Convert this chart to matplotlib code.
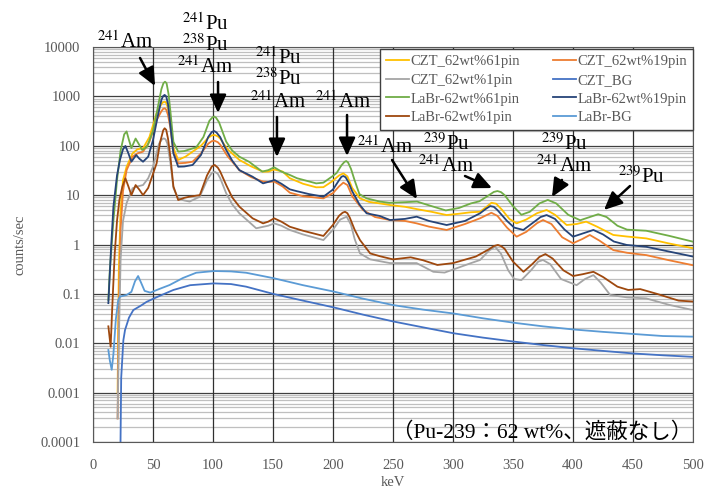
import numpy as np
import matplotlib
matplotlib.use("Agg")
import matplotlib.pyplot as plt
from matplotlib.ticker import FixedLocator, FuncFormatter, LogLocator, NullFormatter

plt.rcParams['font.family'] = ['Liberation Serif', 'Noto Sans CJK JP']
plt.rcParams['mathtext.fontset'] = 'stix'

# ---- spectra (energy keV, counts/sec) ----
czt61_e = [20.5, 21.5, 23, 25, 28, 33, 37, 41.7, 47, 53, 57, 58.5, 59.7, 61, 62.5, 64.5, 67, 71, 77, 83,
           90, 96, 99, 101.4, 104, 106, 112, 122, 132, 141.7, 146, 151, 158, 164, 175, 186, 192, 199,
           205, 208.6, 212, 216, 222.5, 230, 239, 247.5, 260, 270, 282, 294.7, 305, 315, 322.5, 328,
           332, 336, 341, 347, 353, 361, 370, 378, 385, 394.7, 403, 411, 420, 433.6, 445, 461, 480, 500]
czt61_v = [0.001, 0.3, 5, 20, 37.6, 70, 85, 89, 150, 454, 700, 765, 780, 740, 580, 300, 90, 51.6, 60, 76,
           100, 145, 162, 165, 155, 140, 85, 51.6, 38, 29.8, 30, 33, 30, 22, 17, 14.4, 14.5, 18.8,
           25, 27.6, 24, 14, 8.6, 7.3, 6.8, 6.3, 5.8, 5.2, 4.6, 3.95, 4.2, 4.5, 4.6, 5.8,
           7.0, 6.7, 5.0, 3.3, 2.68, 3.2, 4.3, 5.0, 4.0, 2.48, 2.6, 2.9, 2.3, 1.56, 1.45, 1.33, 1.05, 0.84]

czt19_e = [20.5, 21.5, 23, 25, 28, 33, 37, 41.7, 47, 53, 57, 58.5, 59.7, 61, 62.5, 64.5, 67, 71, 77, 83,
           90, 96, 99, 101.4, 104, 106, 112, 122, 132, 141.7, 146, 151, 158, 164, 175, 192, 200, 205,
           208.6, 212, 216, 225, 235, 247.5, 260, 269.7, 280, 294.7, 310, 322.5, 332, 337, 345, 353,
           361, 370, 375, 382, 391, 400, 408, 414, 422, 433.6, 445, 461, 480, 500]
czt19_v = [0.0003, 0.05, 2, 12, 32, 60, 70, 76, 120, 330, 500, 560, 573, 540, 420, 230, 75, 44, 45, 47.5,
           70, 110, 124, 126, 118, 105, 62, 32, 23, 18.8, 18.5, 18.8, 15, 11.2, 9.5, 8.6, 11, 15,
           17.9, 16, 9.5, 5.0, 3.6, 3.13, 3.0, 2.68, 2.3, 1.97, 2.6, 3.39, 4.4, 3.8, 2.2, 1.44,
           1.8, 2.7, 3.13, 2.6, 1.4, 1.06, 1.3, 1.56, 1.2, 0.77, 0.68, 0.61, 0.48, 0.38]

czt1_e = [20.5, 21.5, 23, 25, 28, 33, 37, 41.7, 46, 50, 55, 57.5, 59, 60.5, 62, 64.5, 67, 71, 76, 80.5,
          89, 95, 99, 101.4, 104, 106, 111, 116, 122, 136, 146, 151, 157, 164, 175, 192, 200, 206,
          211.4, 215, 218, 222.5, 231, 247.5, 260, 269.7, 283.6, 293, 303, 315, 322.5, 330, 335,
          340, 346, 351, 357, 365, 371, 375, 381, 390, 403, 410, 417, 423, 431, 445, 461, 480, 500]
czt1_v = [0.0003, 0.01, 0.5, 3, 6.9, 13.8, 15, 16, 22, 37.6, 110, 135, 141, 135, 110, 45, 14, 8.6, 7.8,
          7.4, 9.3, 20, 28, 29.8, 27, 22, 10.9, 6.5, 4.28, 2.13, 2.4, 2.68, 2.4, 1.97, 1.6, 1.23, 2.0,
          3.2, 3.66, 2.5, 1.3, 0.66, 0.5, 0.42, 0.42, 0.42, 0.28, 0.27, 0.33, 0.42, 0.485, 0.75,
          0.9, 0.65, 0.3, 0.2, 0.19, 0.3, 0.45, 0.485, 0.4, 0.2, 0.15, 0.2, 0.24, 0.17, 0.095,
          0.085, 0.081, 0.06, 0.047]

cztbg_e = [22.8, 23.5, 25.3, 26.7, 30, 33.6, 40, 44.7, 55, 67, 81, 100.8, 115, 127.6, 150.8, 175,
           200.9, 225, 250.6, 275, 300.7, 325, 350.8, 375, 400.5, 425, 450.6, 475, 500]
cztbg_v = [0.00005, 0.002, 0.0115, 0.0186, 0.033, 0.047, 0.058, 0.069, 0.09, 0.12, 0.15, 0.163, 0.158,
           0.14, 0.099, 0.073, 0.053, 0.038, 0.0275, 0.021, 0.0159, 0.013, 0.0108, 0.0092, 0.0079,
           0.007, 0.0062, 0.0057, 0.0053]

labr61_e = [12.8, 14, 17, 20, 23, 26, 28, 30, 32, 35.5, 38, 41, 45, 50, 54, 57, 58.7, 60, 61.3, 63,
            64.5, 67, 71, 76, 86, 92, 97, 99.5, 101, 102.5, 105, 111, 116, 122, 130, 141, 146, 151,
            157, 164, 170, 186, 192, 199, 203, 207, 209.5, 211, 212.5, 215, 218, 222, 228, 239, 247,
            260, 270, 282, 294, 305, 315, 322, 330, 334, 337, 340, 343, 350, 357, 364, 372, 379, 386,
            396, 406, 414, 421, 428, 437, 445, 461, 480, 500]
labr61_v = [0.075, 0.3, 3, 20, 80, 170, 195, 130, 90, 140, 110, 82, 95, 200, 600, 1400, 1850, 1980,
            1850, 1100, 500, 120, 76, 78, 93, 150, 320, 375, 390, 370, 300, 121, 80, 60, 47.5, 30, 32,
            36.6, 30, 25.6, 22, 17.3, 17.9, 23.6, 28, 40, 47, 49, 46, 34, 20, 10.5, 8.6, 7.4, 7.0,
            7.2, 7.4, 6.0, 4.9, 5.5, 6.8, 7.5, 10, 11.6, 12.1, 11.5, 10, 6, 4.0, 4.6, 6.8, 8.0, 6.8,
            4.0, 3.1, 3.6, 4.1, 3.6, 2.4, 2.0, 1.9, 1.5, 1.14]

labr19_e = [12.8, 15, 17, 20, 22.5, 25, 27, 29.5, 32, 36, 38.5, 41.7, 46, 50, 54, 57, 58.5, 59.7, 61,
            62.5, 64.5, 67, 71, 76, 83, 90, 96, 99, 101, 103, 106, 111, 116, 122, 133, 141.7, 146,
            151.4, 157, 164, 170, 180, 192, 200, 205, 207, 208.6, 210.5, 213, 216, 222, 228, 239,
            247.5, 260, 269.7, 280, 294.7, 310, 322.5, 328, 331, 334, 337, 345, 351, 358.6, 367, 373,
            378, 385, 393, 400, 409, 417, 425, 434, 444.7, 461, 480, 500]
labr19_v = [0.065, 0.8, 5.8, 25, 52, 85, 99, 70, 47.5, 65, 55, 47.5, 60, 130, 400, 850, 1020, 1070,
            1000, 700, 250, 70, 37.6, 38, 40.8, 65, 150, 190, 199, 185, 150, 82, 50, 32, 23.6, 17.3,
            18.5, 20.2, 17, 13.1, 12, 10.5, 9.3, 13, 20, 23.5, 24.4, 23, 18, 12, 6.5, 4.28, 3.78,
            3.13, 3.3, 3.66, 3.0, 2.48, 3.0, 4.28, 5.4, 6.0, 5.8, 5.0, 3.0, 2.2, 1.97, 2.8, 3.6,
            3.95, 3.3, 2.0, 1.44, 1.7, 1.97, 1.6, 1.15, 0.98, 0.9, 0.72, 0.57]

labr1_e = [12.8, 14.7, 16, 18, 20, 22, 24.5, 27, 29.5, 32, 35.5, 38.5, 41.7, 46, 53, 56, 58.5, 59.7,
           61, 62.5, 64.5, 67, 71, 76, 80.5, 89, 95, 99, 101.4, 104, 106, 111, 116, 122, 133, 141.7,
           146, 151, 157, 164, 175, 192, 200, 205, 208, 210, 212, 214, 218, 222.5, 231, 239, 250,
           264.7, 275, 287, 300, 319, 330, 334, 337.4, 340, 343, 350, 358.7, 366, 372, 377, 383, 392,
           400, 408, 417, 425, 437, 446, 456, 470, 488, 500]
labr1_v = [0.022, 0.0085, 0.05, 0.6, 3, 8, 15, 21.9, 15, 10, 16, 13, 10, 14, 44, 120, 205, 226,
           210, 140, 60, 15, 7.96, 8.8, 9.3, 10, 25, 38, 40.8, 36, 30, 16, 9, 5.83, 3.39, 2.68,
           2.9, 3.39, 2.9, 2.29, 1.9, 1.49, 2.5, 3.8, 4.4, 4.6, 4.3, 3.5, 2.0, 1.23, 0.66, 0.58, 0.5,
           0.55, 0.48, 0.385, 0.42, 0.57, 0.8, 0.93, 0.98, 0.93, 0.82, 0.45, 0.28, 0.4, 0.56, 0.64,
           0.52, 0.3, 0.23, 0.25, 0.28, 0.22, 0.14, 0.12, 0.125, 0.1, 0.073, 0.07]

labrbg_e = [12.8, 14, 15.6, 17, 19, 21, 22.5, 28, 32, 35, 37.6, 40, 43, 47.8, 55, 63.8, 75, 86, 100.8,
            115, 127.6, 150.8, 175, 200.9, 225, 250.6, 275, 300.7, 325, 350.8, 375, 400.5, 425,
            450.6, 475, 500]
labrbg_v = [0.0073, 0.0045, 0.0029, 0.006, 0.03, 0.075, 0.088, 0.095, 0.11, 0.18, 0.23, 0.17, 0.115,
            0.106, 0.125, 0.151, 0.21, 0.268, 0.29, 0.285, 0.268, 0.207, 0.15, 0.111, 0.08, 0.059,
            0.048, 0.04, 0.032, 0.026, 0.022, 0.019, 0.017, 0.0154, 0.014, 0.0136]

series = [
    ("CZT_62wt%61pin", czt61_e, czt61_v, "#FFC000"),
    ("CZT_62wt%19pin", czt19_e, czt19_v, "#ED7D31"),
    ("CZT_62wt%1pin", czt1_e, czt1_v, "#A5A5A5"),
    ("CZT_BG", cztbg_e, cztbg_v, "#4472C4"),
    ("LaBr-62wt%61pin", labr61_e, labr61_v, "#70AD47"),
    ("LaBr-62wt%19pin", labr19_e, labr19_v, "#264478"),
    ("LaBr-62wt%1pin", labr1_e, labr1_v, "#9E480E"),
    ("LaBr-BG", labrbg_e, labrbg_v, "#5B9BD5"),
]

fig = plt.figure(figsize=(7.04, 4.91), dpi=100)
ax = fig.add_axes([93 / 704, 1 - 442 / 491, 600 / 704, 395 / 491])

handles = []
for name, e, v, c in series:
    h, = ax.plot(e, v, color=c, lw=1.3, label=name)
    handles.append(h)

ax.set_yscale("log")
ax.set_xlim(0, 500)
ax.set_ylim(1e-4, 1e4)
ax.xaxis.set_major_locator(FixedLocator(np.arange(0, 501, 50)))
ax.yaxis.set_major_locator(LogLocator(base=10, numticks=20))
ax.yaxis.set_minor_locator(LogLocator(base=10, subs=np.arange(2, 10), numticks=20))
ax.yaxis.set_minor_formatter(NullFormatter())
ax.yaxis.set_major_formatter(FuncFormatter(lambda y, _: "%g" % y))

ax.grid(which="minor", axis="y", color="#BFBFBF", lw=0.9)
ax.grid(which="major", axis="y", color="#404040", lw=0.9)
ax.grid(which="major", axis="x", color="#303030", lw=0.9)
ax.set_axisbelow(True)
# vertical grid on top of the horizontal minor grid
ax.yaxis.set_zorder(0.4)
ax.xaxis.set_zorder(0.6)
ax.tick_params(which="both", length=0, labelsize=10.5, labelcolor="#595959")
ax.tick_params(axis="y", pad=9)
ax.tick_params(axis="x", pad=12)
for s in ax.spines.values():
    s.set_color("#595959")

ax.set_xlabel("keV", fontsize=10.5, color="#595959", labelpad=3)
ax.set_ylabel("counts/sec", fontsize=10.5, color="#595959", labelpad=10)

# legend: two columns, row-wise order
order = [0, 2, 4, 6, 1, 3, 5, 7]
leg = ax.legend([handles[i] for i in order], [series[i][0] for i in order],
                ncol=2, loc="upper left", bbox_to_anchor=(0.478, 0.795, 0.522, 0.2),
                mode="expand", fontsize=10.5, labelcolor="#595959", handlelength=1.6,
                handletextpad=0.1, borderaxespad=0, fancybox=False, edgecolor="#404040",
                framealpha=1, labelspacing=0.38, borderpad=0.4)
leg.get_frame().set_linewidth(1.0)

# nuclide labels
lab_kw = dict(fontsize=15, ha="center", va="baseline", clip_on=False)
labels = [
    (26.7, 9550, r"$^{241}$Am"),
    (93.3, 22090, r"$^{241}$Pu"), (93.3, 8300, r"$^{238}$Pu"), (93.3, 2974, r"$^{241}$Am"),
    (154.2, 4527, r"$^{241}$Pu"), (154.2, 1699, r"$^{238}$Pu"), (154.2, 582, r"$^{241}$Am"),
    (208.3, 582, r"$^{241}$Am"),
    (243.3, 71.3, r"$^{241}$Am"),
    (294.2, 82, r"$^{239}$Pu"), (294.2, 29.4, r"$^{241}$Am"),
    (392.5, 82, r"$^{239}$Pu"), (392.5, 29.4, r"$^{241}$Am"),
    (456.7, 17.6, r"$^{239}$Pu"),
]
for x, y, t in labels:
    ax.text(x, y, t, **lab_kw)

arrows = [
    ((39.2, 5990), (51.7, 1622)),
    ((104.2, 1955), (104.2, 461)),
    ((153.3, 382), (153.3, 59.2)),
    ((211.7, 420), (211.7, 62)),
    ((249.2, 51.5), (270, 8.35)),
    ((310, 24.4), (332.5, 13.9)),
    ((390.8, 20.3), (382.5, 9.16)),
    ((447.5, 15.3), (425.8, 5.0)),
]
for tail, head in arrows:
    ax.annotate("", xy=head, xytext=tail,
                arrowprops=dict(arrowstyle="-|>,head_length=1.1,head_width=0.5",
                                mutation_scale=10, lw=1.8, color="black",
                                shrinkA=0, shrinkB=0))

ax.text(0.999, 0.012, "（Pu-239：62 wt%、遮蔽なし）", transform=ax.transAxes,
        fontsize=15.5, ha="right", va="baseline", color="black")

fig.savefig("out.png", dpi=100)
